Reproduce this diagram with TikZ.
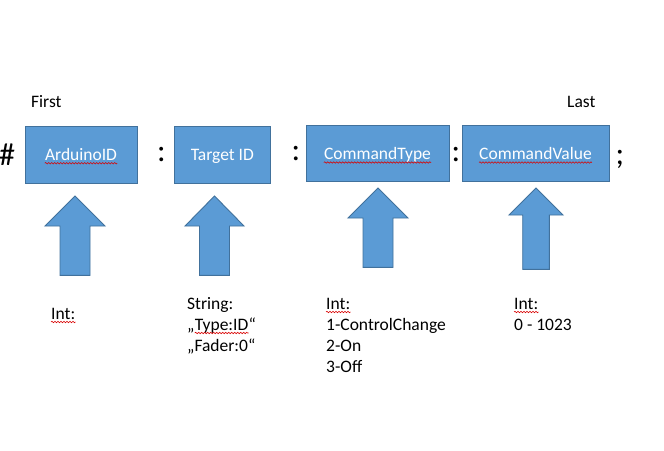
\documentclass[tikz,border=0pt]{standalone}
\usepackage{fontspec}
\setmainfont{Carlito}
\usetikzlibrary{decorations.pathmorphing}
\definecolor{boxblue}{HTML}{5B9BD5}
\definecolor{boxedge}{HTML}{41719C}
\tikzset{
    field/.style={fill=boxblue, draw=boxedge, line width=0.9pt, minimum height=56.5pt, inner sep=0pt},
    fieldtext/.style={text=white, inner sep=0pt, anchor=base, font=\fontsize{17.5}{21}\selectfont},
    txt/.style={anchor=base west, inner sep=0pt, font=\fontsize{17.5}{21}\selectfont},
    sepsign/.style={inner sep=0pt, font=\fontsize{32}{36}\selectfont},
    bigarrow/.style={fill=boxblue, draw=boxedge, line width=0.9pt},
    spell/.style={draw=red!85!black, line width=0.6pt, decorate,
        decoration={snake, segment length=3pt, amplitude=0.7pt}}
}
\begin{document}
\begin{tikzpicture}[x=1pt, y=-1pt]

        \useasboundingbox (0,0) rectangle (664,450);

        % the four fields
        \node[field, minimum width=112pt] (aid) at (81,154.7) {};
        \node[field, minimum width=96.7pt] (tid) at (222.3,154.7) {};
        \node[field, minimum width=143pt] (ctype) at (377.5,153.5) {};
        \node[field, minimum width=147pt] (cval) at (535.5,153.5) {};

        \node[fieldtext] (aidt) at ([yshift=-5.5pt]aid.center) {ArduinoID};
        \node[fieldtext] (tidt) at ([yshift=-5.5pt]tid.center) {Target ID};
        \node[fieldtext] (ctypet) at ([yshift=-6pt]ctype.center) {CommandType};
        \node[fieldtext] (cvalt) at ([yshift=-6pt]cval.center) {CommandValue};

        % separators
        \node[sepsign] (hash) at (7,155) {\#};
        \node[sepsign] (col1) at (161.5,155) {:};
        \node[sepsign] (col2) at (296,154) {:};
        \node[sepsign] (col3) at (456,154.5) {:};
        \node[sepsign] (semi) at (620,159.5) {;};

        \node[txt] (first) at (31,107) {First};
        \node[txt] (last) at (567,107) {Last};

        % block arrows
        \foreach \x/\tip/\base/\bot/\hw/\sw in {75/196/226/275.3/30/15, 214.5/196/226/275.3/29.5/15,
                378/188/218/267.3/30/15, 536/188/215/269.3/27/13.3}
            \filldraw[bigarrow] (\x,\tip) -- (\x+\hw,\base) -- (\x+\sw,\base) -- (\x+\sw,\bot)
                -- (\x-\sw,\bot) -- (\x-\sw,\base) -- (\x-\hw,\base) -- cycle;

        % descriptions
        \node[txt] (aint) at (51,319) {Int:};

        \node[txt] (tstr) at (187,309) {String:};
        \node[txt] (tq1) at (187,330) {„};
        \node[txt] (ttype) at (tq1.base east) {Type:ID};
        \node[txt] (tq2) at (ttype.base east) {“};
        \node[txt] (tfader) at (187,351) {„Fader:0“};

        \node[txt] (cint) at (326,309) {Int:};
        \node[txt] (cone) at (326,330) {1-ControlChange};
        \node[txt] (ctwo) at (326,351) {2-On};
        \node[txt] (cthree) at (326,372) {3-Off};

        \node[txt] (vint) at (514,309) {Int:};
        \node[txt] (vrange) at (514,330) {0 - 1023};

        % spell check marks
        \foreach \w in {aidt, ctypet, cvalt, aint, ttype, cint, vint}
            \draw[spell] ([yshift=-3pt]\w.base west) -- ([yshift=-3pt]\w.base east);

    \end{tikzpicture}
\end{document}
